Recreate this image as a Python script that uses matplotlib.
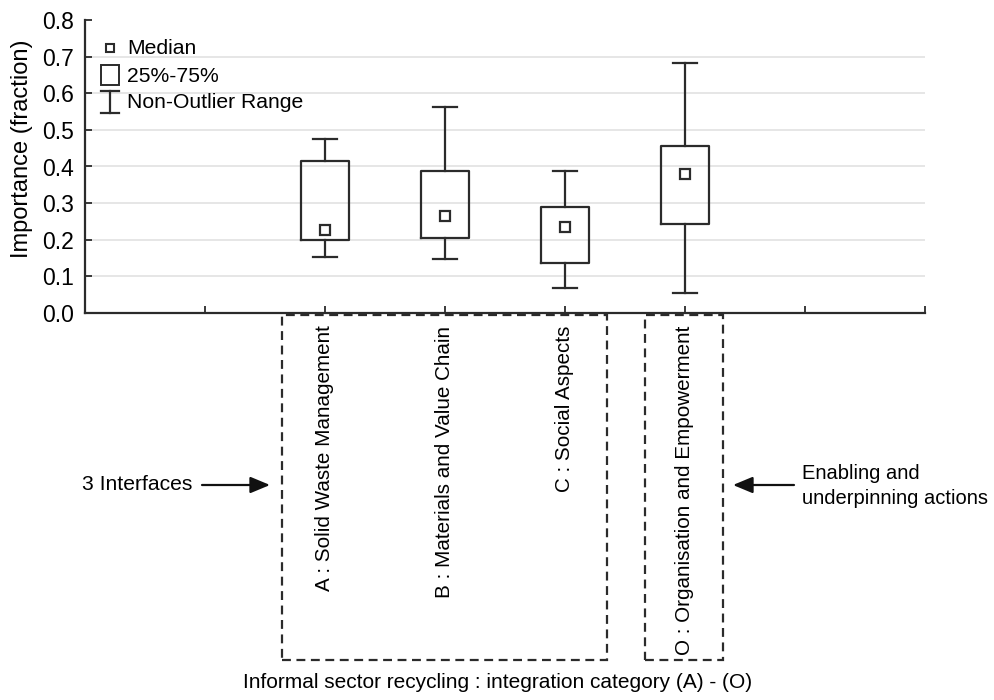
import matplotlib
matplotlib.use('Agg')
import matplotlib.pyplot as plt
from matplotlib.patches import Rectangle
from matplotlib.lines import Line2D

plt.rcParams['font.family'] = ['Liberation Sans', 'DejaVu Sans']

# box plot summary values
categories = ['A : Solid Waste Management', 'B : Materials and Value Chain',
              'C : Social Aspects', 'O : Organisation and Empowerment']
medians = [0.226, 0.264, 0.236, 0.380]
q1 = [0.200, 0.206, 0.137, 0.242]
q3 = [0.416, 0.387, 0.290, 0.457]
whisk_lo = [0.154, 0.148, 0.067, 0.054]
whisk_hi = [0.475, 0.563, 0.388, 0.683]
positions = [2, 3, 4, 5]
yticks = [0.0, 0.1, 0.2, 0.3, 0.4, 0.5, 0.6, 0.7, 0.8]

W, H = 994, 700
dark = '#2b2b2b'
fs = 15.2


def fx(x):
    return x / W


def fy(y):
    return 1 - y / H


fig = plt.figure(figsize=(W / 100, H / 100), dpi=100)
ax = fig.add_axes([fx(85), fy(313), fx(925) - fx(85), fy(20) - fy(313)])

stats = []
for i in range(len(categories)):
    stats.append(dict(med=medians[i], q1=q1[i], q3=q3[i],
                      whislo=whisk_lo[i], whishi=whisk_hi[i], fliers=[]))

ax.bxp(stats, positions=positions, widths=0.4, capwidths=0.2,
       showfliers=False,
       boxprops=dict(color=dark, linewidth=1.6),
       whiskerprops=dict(color=dark, linewidth=1.6),
       capprops=dict(color=dark, linewidth=1.6),
       medianprops=dict(linewidth=0))
ax.plot(positions, medians, 's', mfc='white', mec=dark, ms=7, mew=1.6,
        linestyle='none', zorder=5)

ax.set_xlim(0, 7)
ax.set_ylim(0, 0.8)
ax.set_yticks(yticks)
ax.set_yticklabels(['%.1f' % v for v in yticks], fontsize=16.5)
ax.set_xticks([1, 2, 3, 4, 5, 6, 7])
ax.set_xticklabels([''] + categories + ['', ''], rotation=90, fontsize=14.9)
ax.tick_params(axis='both', direction='in', length=5, width=1.3, color=dark)
ax.tick_params(axis='x', pad=9)
ax.tick_params(axis='y', pad=8)
for s in ['top', 'right']:
    ax.spines[s].set_visible(False)
for s in ['left', 'bottom']:
    ax.spines[s].set_color(dark)
    ax.spines[s].set_linewidth(1.6)
ax.yaxis.grid(True, color='#e2e2e2', linewidth=1.2)
ax.yaxis.get_gridlines()[-1].set_visible(False)
ax.set_axisbelow(True)
ax.set_ylabel('Importance (fraction)', fontsize=17)
ax.yaxis.set_label_coords(-0.062, 0.56)

# legend drawn by hand
fig.add_artist(Line2D([fx(110)], [fy(48)], marker='s', mfc='white', mec=dark,
                      ms=6, mew=1.5, linestyle='none'))
fig.text(fx(127), fy(48), 'Median', fontsize=fs, va='center')
fig.add_artist(Rectangle((fx(101), fy(85)), fx(18), fy(65) - fy(85),
                         fill=False, ec=dark, lw=1.4, transform=fig.transFigure))
fig.text(fx(127), fy(76), '25%-75%', fontsize=fs, va='center')
fig.add_artist(Line2D([fx(110), fx(110)], [fy(91), fy(113)], color=dark, lw=1.6))
fig.add_artist(Line2D([fx(101), fx(119)], [fy(91), fy(91)], color=dark, lw=1.6))
fig.add_artist(Line2D([fx(101), fx(119)], [fy(113), fy(113)], color=dark, lw=1.6))
fig.text(fx(127), fy(102), 'Non-Outlier Range', fontsize=fs, va='center')

# dashed group boxes
fig.add_artist(Rectangle((fx(282), fy(660)), fx(607) - fx(282), fy(315) - fy(660),
                         fill=False, ec=dark, lw=1.6, ls=(0, (4, 2.5)),
                         transform=fig.transFigure))
fig.add_artist(Rectangle((fx(645), fy(660)), fx(723) - fx(645), fy(315) - fy(660),
                         fill=False, ec=dark, lw=1.6, ls=(0, (4, 2.5)),
                         transform=fig.transFigure))

# annotations with arrows
arrow = dict(arrowstyle='-|>,head_length=1.2,head_width=0.5', color='#111111',
             lw=1.6, shrinkA=0, shrinkB=0)
fig.text(fx(82), fy(485), '3 Interfaces', fontsize=fs, va='center', ha='left')
ax.annotate('', xy=(fx(270), fy(485)), xytext=(fx(202), fy(485)),
            xycoords='figure fraction', textcoords='figure fraction',
            arrowprops=arrow)
fig.text(fx(802), fy(486), 'Enabling and\nunderpinning actions', fontsize=14.5,
         va='center', ha='left', linespacing=1.45)
ax.annotate('', xy=(fx(733), fy(485)), xytext=(fx(794), fy(485)),
            xycoords='figure fraction', textcoords='figure fraction',
            arrowprops=arrow)

fig.text(fx(498), fy(683), 'Informal sector recycling : integration category (A) - (O)',
         fontsize=15, ha='center', va='center')

fig.savefig('out.png', dpi=100)
